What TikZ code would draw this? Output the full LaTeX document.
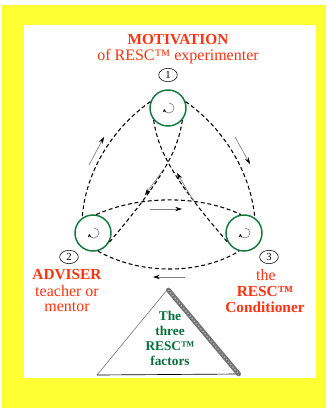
\documentclass[tikz,border=0pt]{standalone}
\usepackage{fontspec}
\setmainfont{Liberation Serif}
\newfontfamily\labelfont{Liberation Serif}
\usetikzlibrary{arrows.meta,shapes.geometric}
\definecolor{frameyellow}{RGB}{255,255,51}
\definecolor{labelred}{RGB}{255,51,17}
\definecolor{factorgreen}{RGB}{10,110,60}
\definecolor{pulleygreen}{RGB}{20,120,60}

\begin{document}
\begin{tikzpicture}[
    x=0.75pt, y=-0.75pt,
    pulley/.style={circle, draw=pulleygreen, line width=1.1pt, minimum size=27pt, inner sep=0pt},
    belt/.style={draw=black, dash pattern=on 3pt off 2pt, line width=0.8pt},
    flow/.style={draw=gray, line width=0.5pt, -{Stealth[black, length=5pt, width=3.2pt]}},
    curl/.style={draw=gray, line width=0.5pt, -{Stealth[black, length=2.5pt, width=2.5pt]}},
    tag/.style={ellipse, draw, line width=0.4pt, minimum width=14pt, minimum height=10pt, inner sep=0pt, font=\labelfont\fontsize{8}{8}\selectfont},
    redbold/.style={text=labelred, font=\labelfont\fontsize{11.5}{12}\selectfont\bfseries},
    redtext/.style={text=labelred, font=\labelfont\fontsize{12}{12}\selectfont},
    greenbold/.style={text=factorgreen, font=\labelfont\fontsize{10}{10}\selectfont\bfseries},
]
\useasboundingbox (0,0) rectangle (326,410);

% Frame
\fill[frameyellow] (2,5) rectangle (326,408);
\fill[white] (24,25) rectangle (316,378);

% Headings
\node[redbold] (motiv) at (178,40) {MOTIVATION};
\node[redtext] (experim) at (178,57) {of RESC™ experimenter};

\node[redbold] (adviser) at (67,275) {ADVISER};
\node[redtext] (teacher) at (67,291) {teacher or};
\node[redtext] (mentor) at (67,307) {mentor};

\node[redtext] (the) at (266,275) {the};
\node[redbold] (resc) at (265,291) {RESC™};
\node[redbold] (condit) at (265,307) {Conditioner};

% Pulleys and number tags
\node[pulley] (p1) at (168,108) {};
\node[pulley] (p2) at (93,233) {};
\node[pulley] (p3) at (244,233) {};

\node[tag] (t1) at (168,75) {1};
\node[tag] (t2) at (69,257) {2};
\node[tag] (t3) at (269,257) {3};

% Curls inside the pulleys
\draw[curl] (p1.center) ++(1,-5) arc[start angle=-90, delta angle=260, radius=5];
\draw[curl] (p2.center) ++(1,-5) arc[start angle=-90, delta angle=260, radius=5];
\draw[curl] (p3.center) ++(1,-5) arc[start angle=-90, delta angle=260, radius=5];

% Belts
\draw[belt] (p1.160) .. controls (110,130) and (85,175) .. (p2.125);
\draw[belt] (p1.20) .. controls (226,130) and (251,175) .. (p3.55);
\draw[belt] (p1.220) .. controls (158,150) and (172,178) .. (p3.210);
\draw[belt] (p1.320) .. controls (178,150) and (164,178) .. (p2.-30);
\draw[belt] (p2.80) .. controls (140,195) and (200,195) .. (p3.100);
\draw[belt] (p2.-75) .. controls (140,275) and (200,275) .. (p3.-105);

% Direction arrows
\coordinate (fa1) at (89,165);  \coordinate (fb1) at (104,137);
\coordinate (fa2) at (235,137); \coordinate (fb2) at (250,164);
\coordinate (fa3) at (150,209); \coordinate (fb3) at (182,209);
\coordinate (fa4) at (185,277); \coordinate (fb4) at (153,277);
\coordinate (fa5) at (163,170); \coordinate (fb5) at (145,195);
\coordinate (fa6) at (193,200); \coordinate (fb6) at (177,173);
\draw[flow] (fa1) -- (fb1);
\draw[flow] (fa2) -- (fb2);
\draw[flow] (fa3) -- (fb3);
\draw[flow] (fa4) -- (fb4);
\draw[flow] (fa5) -- (fb5);
\draw[flow] (fa6) -- (fb6);

% Triangle of factors
\coordinate (apex) at (167,290);
\coordinate (lcorner) at (97,375);
\coordinate (rcorner) at (240,374);
\draw[gray, line width=0.5pt] (lcorner) -- (apex);
\draw[black, line width=0.5pt] (lcorner) -- (rcorner);
\draw[black!55, line width=3.5pt, line cap=round] ([xshift=1pt]apex) -- ([xshift=-1pt]rcorner);
\draw[black!30, line width=1pt, dash pattern=on 1pt off 1.5pt] ([xshift=1pt]apex) -- ([xshift=-1pt]rcorner);

\node[greenbold] (ft1) at (170,316) {The};
\node[greenbold] (ft2) at (170,331) {three};
\node[greenbold] (ft3) at (170,346) {RESC™};
\node[greenbold] (ft4) at (170,361) {factors};

\end{tikzpicture}
\end{document}
